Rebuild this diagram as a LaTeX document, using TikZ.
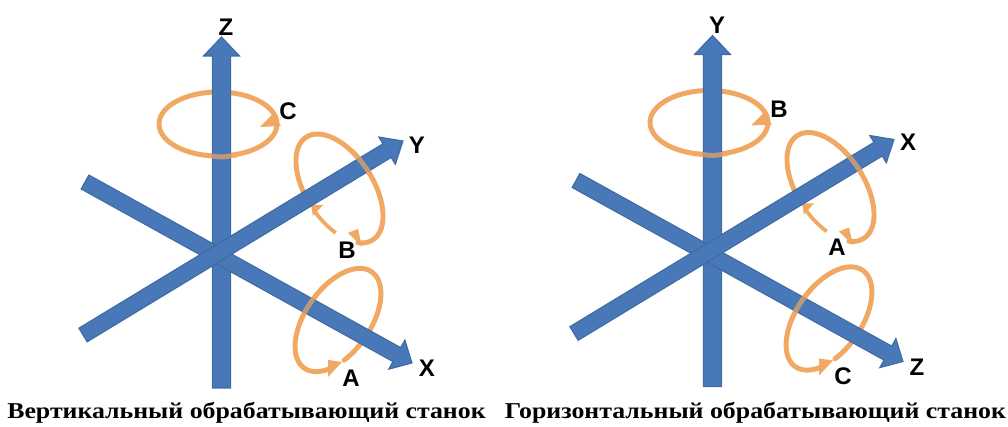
\documentclass[tikz,border=0pt]{standalone}
\usepackage{fontspec}
\setmainfont{Liberation Serif}
\newfontfamily\capfont[FakeStretch=1.14]{Liberation Serif Bold}
\newfontfamily\labfont{Liberation Sans Bold}
\usetikzlibrary{calc}
\definecolor{axfill}{HTML}{4878B8}
\definecolor{axedge}{HTML}{3F6AA2}
\definecolor{ringc}{HTML}{F0A862}
\tikzset{
  axisshape/.style={fill=axfill,draw=axedge,line width=0.8pt,line join=miter},
  ring/.style={draw=ringc,line width=3.7pt,line cap=round},
  ringfront/.style={draw=ringc,line width=3.7pt,opacity=.7},
  ringthin/.style={draw=ringc,line width=2.8pt},
  ringhead/.style={fill=ringc,draw=none},
  axislabel/.style={font=\labfont\fontsize{18pt}{20pt}\selectfont,text=black,inner sep=0pt},
  captiontext/.style={font=\capfont\fontsize{17pt}{19pt}\selectfont,text=black,inner sep=0pt}
}
% #1 tail, #2 tip, #3 half shaft, #4 half head, #5 head length (pt)
\newcommand{\axisarrow}[5]{%
  \coordinate (hb) at ($(#2)!#5!(#1)$);
  \draw[axisshape] ($(#1)!#3!90:(#2)$) -- ($(hb)!#3!-90:(#1)$) -- ($(hb)!#4!-90:(#1)$) -- (#2)
    -- ($(hb)!#4!90:(#1)$) -- ($(hb)!#3!90:(#1)$) -- ($(#1)!#3!-90:(#2)$) -- cycle;
}
% ring A ellipse: centre (338,320), axes 58.8 and 32.4, tilted 55 deg up to the right
\newcommand{\ringAplot}[2]{plot[domain=#1:#2,samples=90,smooth,variable=\t]
  ({338+58.8*cos(\t)*cos(55)+32.4*sin(\t)*sin(55)},{320-58.8*cos(\t)*sin(55)+32.4*sin(\t)*cos(55)})}
% ring B ellipse: centre (339.5,188.5), axes 61.2 and 33.4, tilted 57 deg down to the right
\newcommand{\ringBplot}[2]{plot[domain=#1:#2,samples=90,smooth,variable=\t]
  ({339.5+61.2*cos(\t)*cos(57)-33.4*sin(\t)*sin(57)},{188.5+61.2*cos(\t)*sin(57)+33.4*sin(\t)*cos(57)})}
\newcommand{\panelart}[2]{%
\begin{scope}[shift={(#1,#2)}]
  % rings behind the axes
  \draw[ring] (218,124) ellipse [x radius=59,y radius=32];
  \draw[ring] \ringBplot{100}{385};
  \draw[ringthin] \ringBplot{55}{85};
  \draw[ring] \ringAplot{-225}{120};
  % heads
  \fill[ringhead] (281,126) -- (260,127) -- (273,114) -- cycle;
  \fill[ringhead] (348,233) -- (358,229) -- (362,247) -- cycle;
  \fill[ringhead] (311,205) -- (323,205) -- (313,216) -- cycle;
  \fill[ringhead] (342,362) -- (328,360) -- (328,377) -- cycle;
  % axes
  \coordinate (zt) at (221.5,388); \coordinate (zh) at (221.5,37);
  \coordinate (yt) at (83,335);    \coordinate (yh) at (403,141);
  \coordinate (xt) at (85,182);    \coordinate (xh) at (412,363);
  \axisarrow{zt}{zh}{6.8pt}{13.5pt}{14.25pt}
  \axisarrow{xt}{xh}{6pt}{12.5pt}{13pt}
  \axisarrow{yt}{yh}{6pt}{12pt}{14pt}
  % ring parts in front of the axes
  \draw[ringfront] plot[smooth] coordinates {(206,155)(221,157)(237,155)};
  \draw[ringfront] \ringBplot{245}{275};
  \draw[ringfront] \ringAplot{-112}{-72};
\end{scope}}
\begin{document}
\begin{tikzpicture}[x=0.75pt,y=-0.75pt]
  \useasboundingbox (0,0) rectangle (1008,427);
  \fill[white] (0,0) rectangle (1008,427);
  \panelart{0}{0}
  \panelart{491}{-1.5}
  \node[axislabel] (lz) at (226,27) {Z};
  \node[axislabel] (lc) at (288,111) {C};
  \node[axislabel] (ly) at (417,145) {Y};
  \node[axislabel] (lb) at (347,250) {B};
  \node[axislabel] (la) at (351,378) {A};
  \node[axislabel] (lx) at (427,368) {X};
  \node[axislabel] (ry) at (717,25) {Y};
  \node[axislabel] (rb) at (779,109) {B};
  \node[axislabel] (rx) at (908,142) {X};
  \node[axislabel] (ra) at (837,247) {A};
  \node[axislabel] (rc) at (843,376) {C};
  \node[axislabel] (rz) at (917,367) {Z};
  \node[captiontext] (capl) at (246.5,413) {Вертикальный обрабатывающий станок};
  \node[captiontext] (capr) at (755.5,413) {Горизонтальный обрабатывающий станок};
\end{tikzpicture}
\end{document}
